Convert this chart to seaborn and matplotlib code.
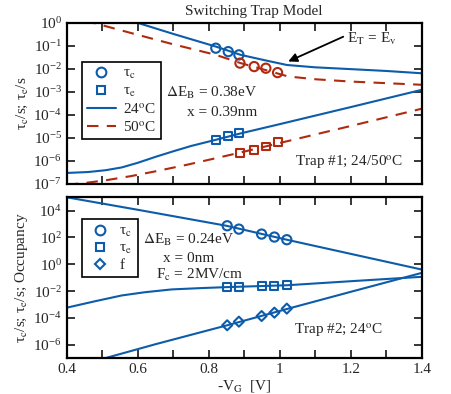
import numpy as np
import pandas as pd
import matplotlib
matplotlib.use("Agg")
import matplotlib.pyplot as plt
from matplotlib.lines import Line2D
from matplotlib.ticker import FixedLocator, NullLocator, FuncFormatter, MultipleLocator
import seaborn as sns

# ---------------- data ----------------
# Top panel (Trap #1)
v_tc24_line = [0.55, 0.60, 0.70, 0.82, 0.89, 0.96, 1.02, 1.10, 1.20, 1.30, 1.40]
tc24_line = [1.70, 1.00, 0.331, 0.0933, 0.0407, 0.0234, 0.0148, 0.0117, 0.00977, 0.00813, 0.00646]
v_tc50_line = [0.45, 0.475, 0.60, 0.70, 0.82, 0.89, 0.96, 1.024, 1.10, 1.20, 1.30, 1.40]
tc50_line = [1.26, 1.00, 0.302, 0.117, 0.0407, 0.0178, 0.00891, 0.00468, 0.00355, 0.00282, 0.0024, 0.00204]
v_te24_line = [0.40, 0.46, 0.51, 0.555, 0.60, 0.65, 0.70, 0.75, 0.82, 0.89, 1.00, 1.20, 1.40]
te24_line = [3.02e-7, 3.31e-7, 3.98e-7, 5.25e-7, 8.32e-7, 1.51e-6, 2.63e-6, 4.47e-6, 8.32e-6, 1.58e-5, 3.98e-5, 2.19e-4, 1.23e-3]
v_te50_line = [0.40, 0.45, 0.51, 0.58, 0.65, 0.74, 0.82, 0.89, 1.00, 1.20, 1.40]
te50_line = [9.33e-8, 1.10e-7, 1.45e-7, 2.19e-7, 3.55e-7, 6.92e-7, 1.32e-6, 2.34e-6, 6.03e-6, 3.31e-5, 1.86e-4]

v_pts24 = [0.820, 0.855, 0.885]
tc24_pts = [0.0794, 0.0562, 0.0407]
te24_pts = [8.3e-6, 1.17e-5, 1.62e-5]
v_pts50 = [0.888, 0.928, 0.961, 0.994]
tc50_pts = [0.0178, 0.0126, 0.0107, 0.0069]
te50_pts = [2.19e-6, 3.09e-6, 4.27e-6, 6.46e-6]

# Bottom panel (Trap #2)
v_tc2_line = [0.40, 0.60, 0.85, 1.02, 1.20, 1.40]
tc2_line = [9.77e4, 1.15e4, 741, 67.6, 6.0, 0.407]
v_te2_line = [0.40, 0.48, 0.555, 0.62, 0.696, 0.78, 0.851, 1.02, 1.20, 1.40]
te2_line = [5.89e-4, 1.78e-3, 4.79e-3, 8.32e-3, 1.35e-2, 1.70e-2, 2.0e-2, 2.75e-2, 5.5e-2, 0.117]
v_f2_line = [0.50, 0.65, 0.852, 1.02, 1.20, 1.40]
f2_line = [8.9e-8, 1.12e-6, 2.88e-5, 4.68e-4, 8.9e-3, 0.229]

v_pts2 = [0.852, 0.885, 0.949, 0.985, 1.020]
tc2_pts = [741, 417, 178, 107, 67.6]
te2_pts = [0.020, 0.020, 0.0234, 0.0234, 0.0275]
f2_pts = [2.88e-5, 5.37e-5, 1.41e-4, 2.51e-4, 5.01e-4]

x_ticks = [0.4, 0.6, 0.8, 1.0, 1.2, 1.4]

BLUE = "#0d5caa"
RED = "#b02a10"

# ---------------- style ----------------
sns.set_style("ticks")
plt.rcParams["font.family"] = ["Liberation Serif", "DejaVu Serif"]
plt.rcParams["mathtext.fontset"] = "stix"
plt.rcParams["font.size"] = 11
plt.rcParams["axes.linewidth"] = 1.6

fig = plt.figure(figsize=(4.51, 3.94), dpi=100)
ax1 = fig.add_axes([0.148, 0.533, 0.787, 0.409])
ax2 = fig.add_axes([0.148, 0.0906, 0.787, 0.409])

LW = 1.5


def line(ax, x, y, color, dashed=False):
    kw = dict(x=x, y=y, ax=ax, color=color, linewidth=LW, estimator=None, sort=False)
    if dashed:
        sns.lineplot(**kw, dashes=False, linestyle=(0, (5.5, 4)))
    else:
        sns.lineplot(**kw)


def pts(ax, x, y, color, marker, s=44):
    sns.scatterplot(x=x, y=y, ax=ax, marker=marker, s=s, facecolors="none",
                    edgecolors=color, linewidths=1.5, zorder=5)


# top panel
line(ax1, v_tc24_line, tc24_line, BLUE)
line(ax1, v_te24_line, te24_line, BLUE)
line(ax1, v_tc50_line, tc50_line, RED, dashed=True)
line(ax1, v_te50_line, te50_line, RED, dashed=True)
pts(ax1, v_pts24, tc24_pts, BLUE, "o")
pts(ax1, v_pts24, te24_pts, BLUE, "s", s=32)
pts(ax1, v_pts50, tc50_pts, RED, "o")
pts(ax1, v_pts50, te50_pts, RED, "s", s=32)

# bottom panel
line(ax2, v_tc2_line, tc2_line, BLUE)
line(ax2, v_te2_line, te2_line, BLUE)
line(ax2, v_f2_line, f2_line, BLUE)
pts(ax2, v_pts2, tc2_pts, BLUE, "o")
pts(ax2, v_pts2, te2_pts, BLUE, "s", s=32)
pts(ax2, v_pts2, f2_pts, BLUE, "D", s=26)

fmt = FuncFormatter(lambda v, p: "%g" % v)
for ax in (ax1, ax2):
    ax.set_yscale("log")
    ax.set_xlim(0.4, 1.4)
    ax.xaxis.set_major_locator(FixedLocator(x_ticks))
    ax.xaxis.set_minor_locator(MultipleLocator(0.1))
    ax.xaxis.set_major_formatter(fmt)
    ax.yaxis.set_minor_locator(NullLocator())
    ax.tick_params(which="both", direction="in", top=True, right=True,
                   width=1.3, labelsize=11, length=6)
    for sp in ax.spines.values():
        sp.set_linewidth(1.6)
        sp.set_color("black")

ax1.set_ylim(1e-7, 1e0)
ax1.yaxis.set_major_locator(FixedLocator([10.0 ** k for k in range(-7, 1)]))
ax1.tick_params(axis="x", labelbottom=False)
ax1.set_xlabel("")
ax1.set_ylabel(r"τ$_\mathrm{c}$/s; τ$_\mathrm{e}$/s", fontsize=11, labelpad=2)

ax2.set_ylim(1e-7, 1e5)
ax2.yaxis.set_major_locator(FixedLocator([10.0 ** k for k in range(-6, 5, 2)]))
ax2.set_xlabel(r"-V$_\mathrm{G}$  [V]", fontsize=11, labelpad=1)
ax2.set_ylabel(r"τ$_\mathrm{c}$/s; τ$_\mathrm{e}$/s; Occupancy", fontsize=11, labelpad=2)

# legends
h1 = [Line2D([], [], ls="none", marker="o", mfc="none", mec=BLUE, mew=1.5, ms=7),
      Line2D([], [], ls="none", marker="s", mfc="none", mec=BLUE, mew=1.5, ms=6),
      Line2D([], [], color=BLUE, lw=LW),
      Line2D([], [], color=RED, lw=LW, ls=(0, (5.5, 4)))]
l1 = ax1.legend(h1, [r"τ$_\mathrm{c}$", r"τ$_\mathrm{e}$", r"24$^{\rm o}$C", r"50$^{\rm o}$C"],
                loc="upper left", bbox_to_anchor=(0.043, 0.758), fancybox=False,
                edgecolor="black", framealpha=1, fontsize=11, handlelength=1.9,
                borderpad=0.3, labelspacing=0.2, handletextpad=0.5, borderaxespad=0)
l1.get_frame().set_linewidth(1.2)

h2 = [Line2D([], [], ls="none", marker="o", mfc="none", mec=BLUE, mew=1.5, ms=7),
      Line2D([], [], ls="none", marker="s", mfc="none", mec=BLUE, mew=1.5, ms=6),
      Line2D([], [], ls="none", marker="D", mfc="none", mec=BLUE, mew=1.5, ms=5)]
l2 = ax2.legend(h2, [r"τ$_\mathrm{c}$", r"τ$_\mathrm{e}$", "f"],
                loc="upper left", bbox_to_anchor=(0.043, 0.865), fancybox=False,
                edgecolor="black", framealpha=1, fontsize=11, handlelength=1.6,
                borderpad=0.35, labelspacing=0.15, handletextpad=0.5, borderaxespad=0)
l2.get_frame().set_linewidth(1.2)

# annotations top
ax1.text(0.809, 9.1e-4, r"$\Delta$E$_\mathrm{B}$ = 0.38eV", ha="center", va="center", fontsize=11)
ax1.text(0.837, 1.23e-4, "x = 0.39nm", ha="center", va="center", fontsize=11)
ax1.text(1.347, 9.3e-7, r"Trap #1; 24/50$^{\rm o}$C", ha="right", va="center", fontsize=11)
ax1.text(1.19, 0.2, r"E$_\mathrm{T}$ = E$_\mathrm{v}$", ha="left", va="center", fontsize=11)
ax1.annotate("", xy=(1.024, 0.021), xytext=(1.179, 0.25),
             arrowprops=dict(arrowstyle="-|>", color="black", lw=1.3, mutation_scale=13,
                             shrinkA=0, shrinkB=0))

# annotations bottom
ax2.text(0.742, 67.6, r"$\Delta$E$_\mathrm{B}$ = 0.24eV", ha="center", va="center", fontsize=11)
ax2.text(0.742, 2.5, "x = 0nm", ha="center", va="center", fontsize=11)
ax2.text(0.774, 0.174, r"F$_\mathrm{c}$ = 2MV/cm", ha="center", va="center", fontsize=11)
ax2.text(1.291, 1.23e-5, r"Trap #2; 24$^{\rm o}$C", ha="right", va="center", fontsize=11)

fig.text(0.563, 1 - 11 / 394, "Switching Trap Model", ha="center", va="center", fontsize=11)

fig.savefig("out.png", dpi=100)
